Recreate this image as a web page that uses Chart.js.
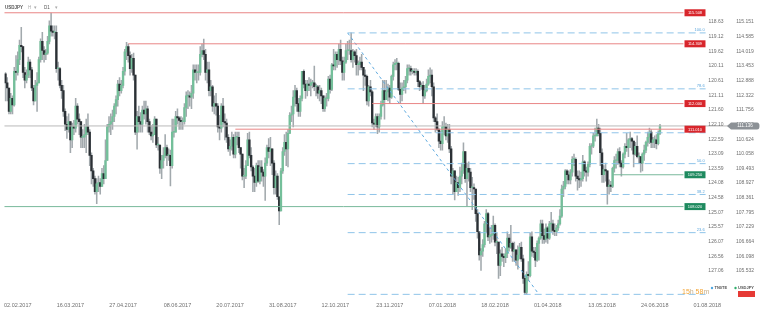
<!DOCTYPE html>
<html>
<head>
<meta charset="utf-8">
<script src="https://cdn.jsdelivr.net/npm/chart.js@4.4.1/dist/chart.umd.min.js"></script>
<style>
  html, body { margin: 0; padding: 0; background: #fff; }
  #wrap { width: 760px; height: 311px; position: relative; }
</style>
</head>
<body>
<div id="wrap"><canvas id="chart" width="760" height="311"></canvas></div>
<script>
// USDJPY D1, one candle per weekday, 02.02.2017 .. 10.07.2018
const firstOpen = 113.15;

const closes = [
  // Feb 2017
  112.80,112.60, 111.70,112.20,111.95,113.25,113.20, 113.70,114.25,114.20,113.20,112.90, 113.10,113.60,113.30,112.60,112.10, 112.70,112.80,
  // Mar
  113.70,114.40,114.05, 113.90,113.95,114.40,115.00,114.80, 114.75,114.75,113.35,113.35,112.70, 112.50,111.70,111.20,111.00,111.30, 110.60,111.10,111.05,111.90,111.40,
  // Apr
  111.30,110.70,110.70,110.80,111.10, 110.90,110.00,109.40,109.10,108.60, 108.90,108.95,108.80,109.30,109.10, 109.80,111.10,111.20,111.30,111.50,
  // May
  111.90,112.15,112.75,112.50,112.70, 113.25,114.00,114.20,113.85,113.35, 113.75,113.10,110.90,111.50,111.30, 111.20,111.75,111.60,111.80,111.30, 110.90,110.75,110.80,
  // Jun
  111.40,110.40, 110.40,109.50,109.80,110.00,110.30, 110.00,110.00,109.60,110.90,110.90, 111.50,111.45,111.35,111.30,111.30, 111.85,112.30,112.30,112.25,112.40,
  // Jul
  113.30,113.20,113.20,113.20,113.90, 114.05,113.90,113.20,113.30,112.50, 112.65,111.90,112.00,111.90,111.10, 111.05,111.90,111.30,111.25,110.70, 110.25,
  // Aug
  110.35,110.70,110.05,110.70, 110.70,110.30,110.05,109.20,109.20, 109.60,110.60,110.00,109.55,109.20, 108.95,109.60,109.00,109.55,109.35, 109.20,109.70,110.30,110.15,
  // Sep
  110.25, 109.70,108.75,109.20,108.40,107.85, 109.40,110.15,110.50,110.25,110.85, 111.55,111.60,112.25,112.50,112.00, 111.70,112.20,113.25,112.75,112.50,
  // Oct
  112.75,112.70,112.80,112.80,112.65, 112.65,112.40,112.50,112.30,111.80, 112.20,112.20,112.95,112.55,113.50, 113.45,113.90,113.70,114.10,113.65, 113.20,113.60,
  // Nov
  114.05,114.05,114.05, 113.70,114.00,113.85,113.50,113.50, 113.60,113.40,113.10,113.05,112.10, 112.65,112.45,111.25,111.20,111.50, 111.10,111.50,111.95,112.50,
  // Dec
  112.15, 112.45,112.60,112.25,113.05,113.50, 113.55,113.55,112.55,112.35,112.60, 112.65,112.90,113.35,113.35,113.25, 113.25,113.20,113.25,112.85,112.65,
  // Jan 2018
  112.70,112.30,112.50,112.75,113.05, 113.10,112.65,111.45,111.30,111.00, 110.55,110.45,111.10,111.10,110.75, 111.00,110.25,109.20,109.40,108.60, 108.95,108.75,109.20,
  // Feb
  109.40,110.15, 109.10,109.50,109.35,108.75,108.75, 108.70,107.75,107.05,106.15,106.30, 106.55,107.35,107.75,106.85,106.90, 106.95,107.30,106.65,
  // Mar
  106.65,105.75, 106.20,106.10,106.05,106.20,106.80, 106.45,106.60,106.30,106.35,105.95, 106.15,106.45,106.00,105.25,104.70, 105.40,105.35,106.85,106.30,106.25,
  // Apr
  105.95,106.60,106.80,107.35,106.90, 106.75,107.20,106.80,107.35,107.35, 107.10,107.05,107.20,107.35,107.65, 108.70,108.80,109.40,109.25,109.05, 109.35,
  // May
  109.85,109.85,109.20,109.10, 109.05,109.10,109.75,109.40,109.35, 109.65,110.35,110.35,110.75,110.75, 111.05,110.85,110.10,109.25,109.45, 109.40,108.80,108.85,108.80,
  // Jun
  109.50, 109.80,109.80,110.15,109.70,109.55, 110.05,110.35,110.30,110.60,110.65, 110.55,110.05,110.35,109.95,109.95, 109.70,110.05,110.20,110.50,110.70,
  // Jul
  110.90,110.50,110.60,110.60,110.45, 110.85,111.136
];

const highs = [
  113.20,113.00, 112.60,112.40,112.30,113.40,113.85, 114.00,114.45,114.95,114.20,113.40, 113.30,113.80,113.70,113.40,112.70, 112.90,113.20,
  113.80,114.50,114.75, 114.20,114.10,114.60,115.20,115.50, 115.00,115.00,115.00,113.60,113.40, 112.90,112.70,111.80,111.50,111.60, 111.00,111.25,111.35,112.20,112.00,
  111.60,111.20,111.00,111.20,111.40, 111.60,111.00,110.10,109.50,109.20, 109.10,109.20,109.10,109.50,109.60, 110.60,111.20,111.50,111.60,111.75,
  112.00,112.30,112.90,113.00,112.90, 113.40,114.10,114.37,114.30,114.00, 113.90,113.95,113.10,111.70,111.90, 111.65,111.90,112.10,112.10,111.90, 111.40,111.15,111.20,
  111.50,111.40, 110.70,110.40,110.00,110.30,110.80, 110.40,110.25,110.20,111.40,111.40, 111.70,111.80,111.50,111.50,111.45, 112.00,112.45,112.50,112.45,112.70,
  113.50,113.50,113.50,113.50,114.20, 114.30,114.49,114.10,113.60,113.60, 112.90,112.70,112.30,112.40,112.00, 111.55,112.00,112.20,111.60,111.40, 110.80,
  110.60,110.90,110.80,110.90, 110.90,110.90,110.30,110.00,109.50, 109.80,110.85,110.90,110.30,109.60, 109.50,109.70,109.80,109.80,109.80, 109.45,109.90,110.40,110.65,
  110.70, 110.00,109.80,109.40,109.30,108.40, 109.50,110.30,110.80,110.90,111.00, 111.65,111.90,112.50,112.70,112.60, 112.20,112.30,113.25,113.30,112.90,
  112.90,113.00,112.95,112.90,113.45, 112.75,112.70,112.70,112.60,112.30, 112.30,112.40,113.05,113.10,113.55, 114.10,114.00,114.00,114.30,114.45, 113.80,113.80,
  114.30,114.40,114.45, 114.73,114.10,114.05,114.10,113.65, 113.80,113.90,113.40,113.30,113.10, 112.70,112.90,112.50,111.40,111.60, 111.60,111.60,112.10,112.90,
  112.90, 112.90,112.75,112.70,113.10,113.60, 113.70,113.75,113.60,112.80,112.80, 112.90,113.05,113.50,113.50,113.45, 113.35,113.35,113.35,113.30,112.90,
  112.80,112.85,112.70,112.95,113.30, 113.38,113.30,112.80,111.50,111.60, 111.05,110.95,111.30,111.50,111.25, 111.20,111.20,110.35,109.50,109.40, 109.20,109.15,109.55,
  109.70,110.48, 110.15,109.70,109.75,109.50,109.15, 108.90,108.65,107.90,107.00,106.40, 106.75,107.45,107.90,107.80,107.20, 107.30,107.65,107.35,
  107.00,106.10, 106.35,106.45,106.20,106.40,107.05, 106.95,107.30,106.65,106.65,106.35, 106.50,106.60,106.65,106.15,105.35, 105.50,105.90,107.00,107.05,106.45,
  106.45,106.70,106.85,107.50,107.50, 107.15,107.35,107.25,107.45,107.80, 107.50,107.35,107.30,107.50,107.90, 108.85,109.00,109.45,109.45,109.40, 109.45,
  109.95,110.05,109.90,109.40, 109.40,109.35,110.00,109.80,109.55, 109.75,110.45,110.45,110.85,111.05, 111.40,111.20,111.05,110.25,109.60, 109.70,109.35,109.05,109.00,
  109.55, 109.95,110.05,110.25,110.30,109.80, 110.10,110.45,110.85,110.65,110.90, 110.70,110.55,110.50,110.75,110.10, 109.95,110.10,110.40,110.55,110.90,
  111.05,111.00,110.70,110.75,110.80, 110.95,111.20
];

const lows = [
  112.10,112.10, 111.60,111.60,111.60,111.90,112.90, 113.10,113.50,114.00,113.00,112.60, 112.80,113.00,113.00,112.50,111.95, 112.10,111.70,
  112.80,113.60,113.70, 113.60,113.70,113.90,114.30,114.60, 114.60,114.50,113.20,112.90,112.60, 112.20,111.50,110.95,110.65,110.90, 110.10,110.30,110.80,110.90,111.20,
  110.80,110.30,110.30,110.30,110.10, 110.80,109.60,108.90,108.80,108.50, 108.13,108.60,108.50,108.80,108.90, 109.40,109.80,110.90,110.80,111.00,
  111.30,111.60,111.90,112.30,112.40, 112.60,113.10,113.70,113.60,113.10, 113.20,112.90,110.80,110.24,110.90, 110.90,110.90,111.40,111.20,110.90, 110.80,110.60,110.50,
  110.80,110.30, 110.20,109.30,109.10,109.50,109.90, 109.60,109.80,108.82,109.50,110.70, 110.90,111.20,111.00,111.00,111.00, 111.20,111.50,111.80,111.90,111.80,
  112.20,112.90,112.80,112.90,113.10, 113.80,113.70,112.90,112.80,112.30, 112.30,111.70,111.60,111.55,110.90, 110.60,110.90,111.10,110.60,110.50, 110.15,
  110.00,110.20,109.90,109.90, 110.40,110.10,109.50,109.05,108.75, 109.10,109.60,109.90,109.40,108.60, 108.60,108.80,108.95,108.90,109.00, 108.80,108.26,109.60,109.90,
  109.60, 109.25,108.50,108.50,108.30,107.32, 108.30,109.30,110.00,109.60,109.55, 110.90,111.30,111.10,111.90,111.70, 111.50,111.50,112.10,112.60,112.20,
  112.30,112.50,112.30,112.60,112.50, 112.30,112.20,112.10,112.00,111.70, 111.70,111.90,112.10,112.40,112.50, 113.30,113.30,113.40,113.50,113.50, 112.90,112.90,
  113.55,113.70,113.90, 113.60,113.40,113.60,113.10,113.10, 113.30,113.30,112.50,112.70,111.95, 111.90,112.30,111.10,111.00,111.10, 110.84,110.90,111.40,111.90,
  111.40, 112.30,112.10,112.00,112.20,112.90, 113.30,113.30,112.50,112.00,112.10, 112.50,112.40,112.80,113.10,113.10, 113.15,113.10,113.10,112.65,112.50,
  112.55,112.00,112.20,112.45,112.70, 112.80,112.30,111.30,110.90,110.95, 110.30,110.20,110.20,110.80,110.60, 110.50,110.10,108.90,108.50,108.28, 108.60,108.45,108.60,
  108.90,109.30, 108.95,108.05,109.00,108.60,107.90, 108.30,107.45,106.80,105.95,105.55, 106.10,106.45,107.00,106.70,106.60, 106.65,106.75,106.50,
  106.20,105.25, 105.35,105.90,105.70,105.85,106.05, 106.30,106.40,105.90,105.90,105.75, 105.60,106.00,105.90,105.05,104.64, 104.63,105.15,105.30,106.10,106.05,
  105.70,105.90,105.95,106.75,106.60, 106.60,106.65,106.60,106.75,107.05, 106.95,106.90,106.90,107.10,107.30, 107.60,108.40,108.70,108.90,108.90, 108.90,
  109.20,109.60,109.00,108.65, 108.75,108.80,109.00,109.20,109.00, 109.20,109.55,110.05,110.30,110.55, 110.75,110.75,109.60,108.95,108.95, 109.00,108.11,108.50,108.60,
  108.75, 109.35,109.50,109.65,109.55,109.20, 109.50,109.90,110.15,109.95,110.30, 110.20,109.55,110.00,109.90,109.70, 109.35,109.40,109.80,110.10,110.35,
  110.45,110.30,110.30,110.30,110.25, 110.40,110.80
];

// x axis: candle index of each date label
const dateTickIdx = [7, 37, 67, 98, 128, 158, 188, 219, 249, 279, 309, 340, 370, 400];
const dateLabels = ['02.02.2017', '16.03.2017', '27.04.2017', '08.06.2017', '20.07.2017', '31.08.2017', '12.10.2017',
  '23.11.2017', '07.01.2018', '18.02.2018', '01.04.2018', '13.05.2018', '24.06.2018', '01.08.2018'];

// right axes
const priceTicks = [115.151, 114.585, 114.019, 113.453, 112.888, 112.322, 111.756, 111.190, 110.624,
  110.058, 109.493, 108.927, 108.361, 107.795, 107.229, 106.664, 106.098, 105.532];
const altTicks = ['118.63', '119.12', '119.62', '120.11', '120.61', '121.11', '121.60', '122.10', '122.59',
  '123.09', '123.59', '124.08', '124.58', '125.07', '125.57', '126.07', '126.56', '127.06'];

// horizontal levels
const levelValues = [115.508, 114.309, 112.000, 111.010, 109.250, 108.020];
const levelStart = [-1, 70, 209, 131, 346, -1];
const levelKind = ['res', 'res', 'res', 'res', 'sup', 'sup'];
const lastPrice = 111.136;

// fibonacci swing: high 06.11.2017, low 26.03.2018
const fibHigh = 114.73, fibLow = 104.63;
const fibStartIdx = 195, fibEndIdx = 304;
const fibLevels = [100, 78.6, 61.8, 50, 38.2, 23.6, 0];

const X_MIN = -0.57, X_MAX = 430;
const Y_MIN = 104.489, Y_MAX = 115.808;
const LINE_END = 386.4, FIB_END = 399, LAST_END = 413;

const UP = '#74bf9a', DOWN = '#2b3035', WICK = '#a2a9ad';
const RED_LINE = '#e98686', RED_BOX = '#d8262c';
const GREEN_LINE = '#79b99b', GREEN_BOX = '#1e8a5f';
const FIB = '#8fc4e9';

const opens = closes.map((c, i) => i === 0 ? firstOpen : closes[i - 1]);

const wickData = closes.map((c, i) => ({
    x: i, y: [Math.min(lows[i], opens[i], c), Math.max(highs[i], opens[i], c)]
}));
const bodyData = closes.map((c, i) => ({ x: i, y: [opens[i], c] }));

function hLine(y, x0, x1, color, dash, width) {
    return {
        type: 'line', data: [{ x: x0, y }, { x: x1, y }], borderColor: color, borderWidth: width || 1,
        borderDash: dash || [], pointRadius: 0, fill: false, order: 0
    };
}

const fibPrice = lv => fibLow + (fibHigh - fibLow) * lv / 100;

const lineSets = [];
levelValues.forEach((v, i) => {
    lineSets.push(hLine(v, levelStart[i], LINE_END, levelKind[i] === 'res' ? RED_LINE : GREEN_LINE));
});
lineSets.push(hLine(lastPrice, -1, LAST_END, '#b9b9b9'));
fibLevels.forEach(lv => lineSets.push(hLine(fibPrice(lv), fibStartIdx, FIB_END, FIB, [7, 4])));
lineSets.push({
    type: 'line', data: [{ x: fibStartIdx, y: fibHigh }, { x: fibEndIdx, y: fibLow }],
    borderColor: '#5ea9de', borderWidth: 1, borderDash: [3, 3], pointRadius: 0, fill: false, order: 0
});

// overlay texts: axes, level tags, legend
const overlay = {
    id: 'overlay',
    afterDraw(chart) {
        const { ctx } = chart;
        const xs = chart.scales.x, ys = chart.scales.y;
        ctx.save();
        ctx.textBaseline = 'middle';

        ctx.font = '5px Arial';
        ctx.fillStyle = '#6f6f6f';
        ctx.textAlign = 'center';
        priceTicks.forEach((v, i) => {
            const y = ys.getPixelForValue(v);
            ctx.fillText(altTicks[i], 716, y);
            ctx.fillText(v.toFixed(3), 745, y);
        });

        // fib labels
        ctx.font = '4px Arial';
        ctx.fillStyle = '#5aa5dc';
        ctx.textAlign = 'right';
        ctx.textBaseline = 'bottom';
        const fx = xs.getPixelForValue(FIB_END) - 1;
        fibLevels.forEach(lv => {
            if (lv === 0) return;
            ctx.fillText(lv.toFixed(1), fx, ys.getPixelForValue(fibPrice(lv)) - 1);
        });

        // level tags
        ctx.textBaseline = 'middle';
        ctx.textAlign = 'center';
        const bx = xs.getPixelForValue(LINE_END) + 1;
        levelValues.forEach((v, i) => {
            const y = ys.getPixelForValue(v);
            ctx.fillStyle = levelKind[i] === 'res' ? RED_BOX : GREEN_BOX;
            ctx.fillRect(bx, y - 3.5, 21, 7);
            ctx.fillStyle = '#fff';
            ctx.font = '4px Arial';
            ctx.fillText(v.toFixed(3), bx + 10.5, y + 0.3);
        });

        // last price pill
        const py = ys.getPixelForValue(lastPrice);
        ctx.fillStyle = '#8c9196';
        ctx.beginPath();
        ctx.moveTo(727, py);
        ctx.lineTo(731, py - 3.5);
        ctx.lineTo(757, py - 3.5);
        ctx.quadraticCurveTo(759.5, py - 3.5, 759.5, py);
        ctx.quadraticCurveTo(759.5, py + 3.5, 757, py + 3.5);
        ctx.lineTo(731, py + 3.5);
        ctx.closePath();
        ctx.fill();
        ctx.fillStyle = '#fff';
        ctx.font = '4.5px Arial';
        ctx.fillText(lastPrice.toFixed(3), 745, py + 0.3);

        // candle countdown
        ctx.font = '7px Arial';
        ctx.textAlign = 'left';
        const parts = [['15', '#f3a535'], ['h ', '#c9b08a'], ['58', '#f3a535'], ['m', '#c9b08a']];
        let tx = 682;
        parts.forEach(([t, c]) => {
            ctx.fillStyle = c;
            ctx.fillText(t, tx, 292);
            tx += ctx.measureText(t).width;
        });

        // legend
        ctx.font = 'bold 4px Arial';
        [['TN0TE', '#4ea6e0', 712], ['USDJPY', '#2fae6c', 735.5]].forEach(([t, c, x]) => {
            ctx.fillStyle = c;
            ctx.beginPath();
            ctx.arc(x, 288, 1.2, 0, Math.PI * 2);
            ctx.fill();
            ctx.fillStyle = '#555';
            ctx.fillText(t, x + 2.5, 288.3);
        });
        ctx.fillStyle = '#e63a35';
        ctx.fillRect(738, 291, 17, 6);

        // header
        ctx.textAlign = 'left';
        ctx.font = 'bold 4.5px Arial';
        ctx.fillStyle = '#555';
        ctx.fillText('USDJPY', 5, 8);
        ctx.font = '4.5px Arial';
        ctx.fillStyle = '#aaa';
        ctx.fillText('H  \u25BE', 28, 8);
        ctx.fillStyle = '#555';
        ctx.fillText('D1', 44, 8);
        ctx.fillStyle = '#aaa';
        ctx.fillText('\u25BE', 55, 8);
        ctx.restore();
    }
};

new Chart(document.getElementById('chart'), {
    type: 'bar',
    data: {
        datasets: [
            ...lineSets,
            {
                data: bodyData, order: 1, grouped: false, barThickness: 1.7, minBarLength: 0.8,
                backgroundColor: ctx => closes[ctx.dataIndex] >= opens[ctx.dataIndex] ? UP : DOWN
            },
            { data: wickData, order: 2, grouped: false, barThickness: 0.9, backgroundColor: WICK }
        ]
    },
    options: {
        responsive: false,
        animation: false,
        layout: { padding: { top: 5, left: 0, right: 0, bottom: 0 } },
        plugins: { legend: { display: false }, tooltip: { enabled: false } },
        scales: {
            x: {
                type: 'linear', min: X_MIN, max: X_MAX, offset: false,
                grid: { display: false, drawTicks: false }, border: { display: false },
                afterBuildTicks: s => { s.ticks = dateTickIdx.map(v => ({ value: v })); },
                afterFit: s => { s.height = 13; },
                ticks: {
                    autoSkip: false, maxRotation: 0, padding: 4, color: '#6f6f6f',
                    font: { size: 5.5, family: 'Arial' },
                    callback: (v, i) => dateLabels[i]
                }
            },
            y: { display: false, min: Y_MIN, max: Y_MAX }
        }
    },
    plugins: [overlay]
});
</script>
</body>
</html>
